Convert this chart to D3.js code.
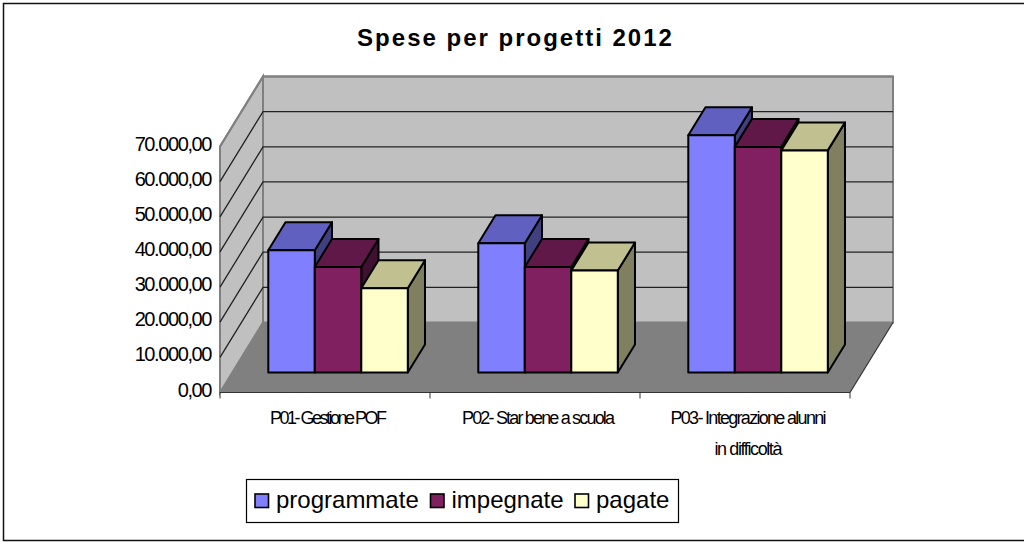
<!DOCTYPE html>
<html>
<head>
<meta charset="utf-8">
<script src="https://cdn.jsdelivr.net/npm/d3@7"></script>
<style>
  html, body { margin: 0; padding: 0; background: #fff; }
  svg { display: block; }
  text { font-family: "Liberation Sans", Arial, sans-serif; fill: #000; }
</style>
</head>
<body>
<svg width="1024" height="542"></svg>
<script>
// data
const categories = ["P01- Gestione POF", "P02- Star bene a scuola", "P03- Integrazione alunni in difficoltà"];
const categoryLines = [["P01- Gestione POF"], ["P02- Star bene a scuola"], ["P03- Integrazione alunni", "in difficoltà"]];
const seriesNames = ["programmate", "impegnate", "pagate"];
const programmate = [34800, 36800, 67500];
const impegnate = [30000, 30000, 64200];
const pagate = [24000, 29000, 63200];
const seriesValues = [programmate, impegnate, pagate];
const yTicks = [0, 10000, 20000, 30000, 40000, 50000, 60000, 70000];
const yTickLabels = ["0,00", "10.000,00", "20.000,00", "30.000,00", "40.000,00", "50.000,00", "60.000,00", "70.000,00"];

const faceColors = ["#8080FF", "#802060", "#FFFFCC"];
const topColors = ["#6060C0", "#601848", "#C0C090"];
const sideColors = ["#404080", "#401030", "#808060"];
// label widths in the original are uneven, so they are set per line
const catLineWidths = [[117], [153], [156, 68]];

const svg = d3.select("svg");

// front plane scales, z moves a point to the back of the box
const x = d3.scaleBand().domain(categories).range([220, 850]);
const y = d3.scaleLinear().domain([0, 70000]).range([392.5, 146.5]);
const depth = d3.scaleLinear().domain([0, 1]).range([[0, 0], [43, -70]]);
const pt = (px, py, z) => { const d = depth(z); return [px + d[0], py + d[1]]; };
const line = d3.line();
const poly = pts => line(pts) + "Z";

const xL = x.range()[0], xR = x.range()[1];
const y0 = y(0), yT = y(70000);

// outer frame: no line on the right side
svg.append("path").attr("d", line([[1024, 3.5], [3.5, 3.5], [3.5, 540.5], [1024, 540.5]]))
  .attr("fill", "none").attr("stroke", "#111").attr("stroke-width", 1.5);

// back wall
svg.append("path").attr("d", poly([pt(xL, y0, 1), pt(xR, y0, 1), pt(xR, yT, 1), pt(xL, yT, 1)]))
  .attr("fill", "#C0C0C0").attr("stroke", "#808080").attr("stroke-width", 2);
// left wall
svg.append("path").attr("d", poly([pt(xL, y0, 0), pt(xL, y0, 1), pt(xL, yT, 1), pt(xL, yT, 0)]))
  .attr("fill", "#C0C0C0").attr("stroke", "#808080").attr("stroke-width", 2);
// floor
svg.append("path").attr("d", poly([pt(xL, y0, 0), pt(xR, y0, 0), pt(xR, y0, 1), pt(xL, y0, 1)]))
  .attr("fill", "#808080");
svg.append("path").attr("d", line([pt(xR, y0, 0), pt(xR, y0, 1)]))
  .attr("stroke", "#333").attr("stroke-width", 1.2);

// gridlines on both walls
const gridTicks = yTicks.slice(1, -1);
svg.append("g").selectAll("path").data(gridTicks).enter().append("path")
  .attr("d", d => line([pt(xL, y(d), 0), pt(xL, y(d), 1), pt(xR, y(d), 1)]))
  .attr("fill", "none").attr("stroke", "#222").attr("stroke-width", 1.3);
svg.append("path").attr("d", line([pt(xL, yT, 0), pt(xL, yT, 1), pt(xR, yT, 1)]))
  .attr("fill", "none").attr("stroke", "#808080").attr("stroke-width", 2);

// y axis labels
svg.append("g").selectAll("text").data(yTicks).enter().append("text")
  .attr("x", 211).attr("y", d => y(d) + 4)
  .attr("text-anchor", "end").attr("font-size", 20).attr("letter-spacing", -1.4)
  .text((d, i) => yTickLabels[i]);

// category axis
svg.append("path").attr("d", line([[xL, y0], [xR, y0]])).attr("stroke", "#333").attr("stroke-width", 1.2);
const catTicks = categories.map(c => x(c)).concat([xR]);
svg.append("g").selectAll("line").data(catTicks).enter().append("line")
  .attr("x1", d => d).attr("x2", d => d).attr("y1", y0).attr("y2", y0 + 6)
  .attr("stroke", "#333").attr("stroke-width", 1);

const catLabels = svg.append("g").selectAll("text").data(categories).enter().append("text")
  .attr("text-anchor", "middle").attr("font-size", 18);
catLabels.selectAll("tspan").data((d, i) => categoryLines[i].map((t, j) => ({ t, c: d, w: catLineWidths[i][j] }))).enter().append("tspan")
  .attr("x", d => x(d.c) + x.bandwidth() / 2 + 3.5)
  .attr("y", (d, i) => 424 + i * 31)
  .attr("textLength", d => d.w)
  .attr("lengthAdjust", "spacing")
  .text(d => d.t);

// bars
const barZ0 = 20 / 70, barZ1 = 48 / 70;
const inner = d3.scaleBand().domain(d3.range(seriesNames.length))
  .range([-69, 70.5]);

seriesValues.forEach(function(values, s) {
  const g = svg.append("g");
  values.forEach(function(v, c) {
    const x0 = x(categories[c]) + x.bandwidth() / 2 + inner(s);
    const x1 = x0 + inner.bandwidth();
    const top = y(v);
    const face = (pts, fill) => g.append("path").attr("d", poly(pts))
      .attr("fill", fill).attr("stroke", "#000").attr("stroke-width", 2).attr("stroke-linejoin", "round");
    face([pt(x1, y0, barZ0), pt(x1, y0, barZ1), pt(x1, top, barZ1), pt(x1, top, barZ0)], sideColors[s]);
    face([pt(x0, top, barZ0), pt(x1, top, barZ0), pt(x1, top, barZ1), pt(x0, top, barZ1)], topColors[s]);
    face([pt(x0, y0, barZ0), pt(x1, y0, barZ0), pt(x1, top, barZ0), pt(x0, top, barZ0)], faceColors[s]);
  });
});

// title
svg.append("text").attr("x", 515.5).attr("y", 46).attr("text-anchor", "middle")
  .attr("font-size", 24).attr("font-weight", "bold").attr("letter-spacing", 2)
  .text("Spese per progetti 2012");

// legend
svg.append("rect").attr("x", 246.5).attr("y", 479.5).attr("width", 432).attr("height", 43)
  .attr("fill", "#fff").attr("stroke", "#000").attr("stroke-width", 1.2);
const legendX = [255, 430.5, 575];
const legendItems = svg.append("g").selectAll("g").data(seriesNames).enter().append("g")
  .attr("transform", (d, i) => `translate(${legendX[i]},494)`);
legendItems.append("rect").attr("width", 13.5).attr("height", 13.5)
  .attr("fill", (d, i) => faceColors[i]).attr("stroke", "#000").attr("stroke-width", 1.6);
legendItems.append("text").attr("x", 21).attr("y", 13.5).attr("font-size", 24).text(d => d);
</script>
</body>
</html>
